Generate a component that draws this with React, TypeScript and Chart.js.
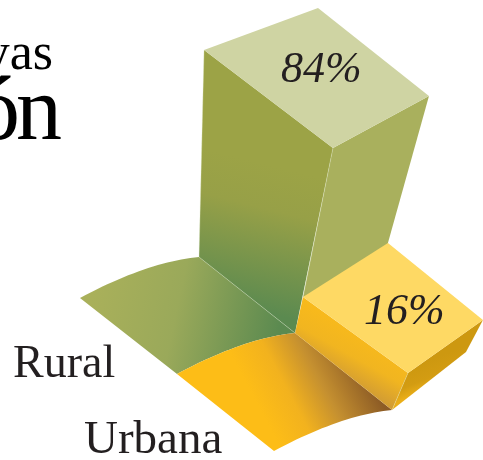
import React, { useEffect, useRef } from "react";
import { Chart, registerables } from "chart.js";

Chart.register(...registerables);

// ---- data ----
const categories = ["Rural", "Urbana"];
const shares = [84, 16];
const titleFragments = ["yas", "ón"];

// ---- layout: floor plan of the oblique drawing, in canvas units ----
type P = [number, number];
const W = 483;
const H = 460;
const FLOOR_BACK: P = [199, 257];
const FLOOR_HUB: P = [295, 333];
const FLOOR_FRONT: P = [392, 410];
const FLOOR_RIGHT: P = [466, 352];
const FLOOR_SIDE: P = [379, 275];
const FLOOR_REAR: P = [283, 199];

// how far each corner climbs per percentage point
const leanTall: Record<string, P> = {
  back: [0.06, -2.464],
  hub: [0.452, -2.202],
  side: [0.595, -2.131],
  rear: [0.417, -2.274],
};
const leanShort: Record<string, P> = {
  hub: [0.5, -2.25],
  front: [1.0, -2.31],
  right: [1.06, -2.0],
  side: [0.56, -2.0],
};

const up = (b: P, l: P, v: number): P => [b[0] + l[0] * v, b[1] + l[1] * v];

const arc = (a: P, c: P, b: P, steps = 24): P[] => {
  const out: P[] = [];
  for (let i = 0; i <= steps; i++) {
    const t = i / steps;
    const s = 1 - t;
    out.push([
      s * s * a[0] + 2 * s * t * c[0] + t * t * b[0],
      s * s * a[1] + 2 * s * t * c[1] + t * t * b[1],
    ]);
  }
  return out;
};

const [rural, urban] = shares;
const A = up(FLOOR_BACK, leanTall.back, rural);
const B = up(FLOOR_HUB, leanTall.hub, rural);
const C = up(FLOOR_SIDE, leanTall.side, rural);
const D = up(FLOOR_REAR, leanTall.rear, rural);
const E = up(FLOOR_HUB, leanShort.hub, urban);
const F = up(FLOOR_FRONT, leanShort.front, urban);
const G = up(FLOOR_RIGHT, leanShort.right, urban);
const I = up(FLOOR_SIDE, leanShort.side, urban);

const ruralTip: P = [80, 298];
const urbanTip: P = [177, 374];
const urbanFoot: P = [274, 451];

type Stop = [number, string];
type Paint = string | { from: P; to: P; stops: Stop[] };

const shapes: { pts: P[]; paint: Paint }[] = [
  // green floor
  {
    pts: [...arc(ruralTip, [147, 262], FLOOR_BACK), FLOOR_HUB, ...arc(FLOOR_HUB, [244, 338], urbanTip)],
    paint: { from: [95, 285], to: [280, 325], stops: [[0, "#a9b05a"], [0.45, "#9aa95a"], [0.8, "#729553"], [1, "#5b8a50"]] },
  },
  // yellow floor
  {
    pts: [urbanTip, ...arc(urbanTip, [244, 338], FLOOR_HUB), FLOOR_FRONT, ...arc(FLOOR_FRONT, [341, 415], urbanFoot)],
    paint: { from: [255, 400], to: [353, 348], stops: [[0, "#fdbd17"], [0.3, "#f2b21e"], [0.6, "#c59030"], [1, "#8c5b25"]] },
  },
  // tall bar
  {
    pts: [A, B, FLOOR_HUB, FLOOR_BACK],
    paint: { from: [270, 165], to: [235, 305], stops: [[0, "#9ca346"], [0.3, "#97a047"], [1, "#5b8a50"]] },
  },
  { pts: [B, C, FLOOR_SIDE, E], paint: "#a9b05d" },
  { pts: [A, D, C, B], paint: "#cfd4a3" },
  // short bar
  {
    pts: [E, F, FLOOR_FRONT, FLOOR_HUB],
    paint: { from: [362, 330], to: [335, 378], stops: [[0, "#f9ba1b"], [0.5, "#f1b520"], [1, "#cf9a35"]] },
  },
  {
    pts: [F, G, FLOOR_RIGHT, FLOOR_FRONT],
    paint: { from: [430, 360], to: [440, 385], stops: [[0, "#cd9810"], [0.6, "#d39c12"], [1, "#eaae18"]] },
  },
  { pts: [E, I, G, F], paint: "#fed964" },
];

// thin light creases where two faces meet
const seams: P[][] = [
  [FLOOR_BACK, FLOOR_HUB],
  [B, E],
  [F, FLOOR_FRONT],
  [A, FLOOR_BACK],
];

export default function App() {
  const ref = useRef<HTMLCanvasElement>(null);

  useEffect(() => {
    document.body.style.margin = "0";
    const canvas = ref.current!;
    const labelsPlugin = {
      id: "labels",
      afterDatasetsDraw(chart: any) {
        const ctx = chart.ctx;
        const sx = chart.scales.x;
        const sy = chart.scales.y;
        const put = (t: string, x: number, y: number, font: string, color: string, align: CanvasTextAlign = "left", spacing = "0px") => {
          ctx.save();
          ctx.font = font;
          ctx.fillStyle = color;
          ctx.textAlign = align;
          ctx.textBaseline = "alphabetic";
          (ctx as any).letterSpacing = spacing;
          ctx.fillText(t, sx.getPixelForValue(x), sy.getPixelForValue(y));
          ctx.restore();
        };
        const serif = '"Liberation Serif"';
        put(titleFragments[0], 53, 69, `52px ${serif}`, "#000", "right");
        put(titleFragments[1], -26, 139, `92px ${serif}`, "#000", "left", "-4px");
        put(categories[0], 13, 377, `46px ${serif}`, "#231f20");
        put(categories[1], 84, 453, `47px ${serif}`, "#231f20");
        put(`${shares[0]}%`, 281, 82, `italic 44px ${serif}`, "#231f20");
        put(`${shares[1]}%`, 364, 324, `italic 44px ${serif}`, "#231f20");
      },
    };

    const colour = (p: Paint, c: any) => {
      if (typeof p === "string") return p;
      const chart = c.chart;
      const kx = chart.width / W;
      const ky = chart.height / H;
      const g = chart.ctx.createLinearGradient(p.from[0] * kx, p.from[1] * ky, p.to[0] * kx, p.to[1] * ky);
      p.stops.forEach(([o, col]) => g.addColorStop(o, col));
      return g;
    };

    const faceSets = shapes.map((s, i) => ({
      data: s.pts.map(([x, y]) => ({ x, y })),
      showLine: true,
      fill: "shape",
      pointRadius: 0,
      borderWidth: 0,
      borderColor: "transparent",
      tension: 0,
      order: 100 - i,
      backgroundColor: (c: any) => colour(s.paint, c),
    }));
    const seamSets = seams.map((pts, i) => ({
      data: pts.map(([x, y]) => ({ x, y })),
      showLine: true,
      fill: false,
      pointRadius: 0,
      borderWidth: 0.6,
      borderColor: "rgba(225,232,200,0.55)",
      tension: 0,
      order: 50 - i,
    }));

    const chart = new Chart(canvas, {
      type: "scatter",
      data: { datasets: [...faceSets, ...seamSets] },
      options: {
        animation: false,
        responsive: false,
        layout: { padding: 0 },
        plugins: { legend: { display: false }, tooltip: { enabled: false } },
        scales: {
          x: { type: "linear", min: 0, max: W, display: false },
          y: { type: "linear", min: 0, max: H, reverse: true, display: false },
        },
      },
      plugins: [labelsPlugin],
    } as any);
    return () => chart.destroy();
  }, []);

  return <canvas ref={ref} width={W} height={H} style={{ display: "block" }} />;
}
